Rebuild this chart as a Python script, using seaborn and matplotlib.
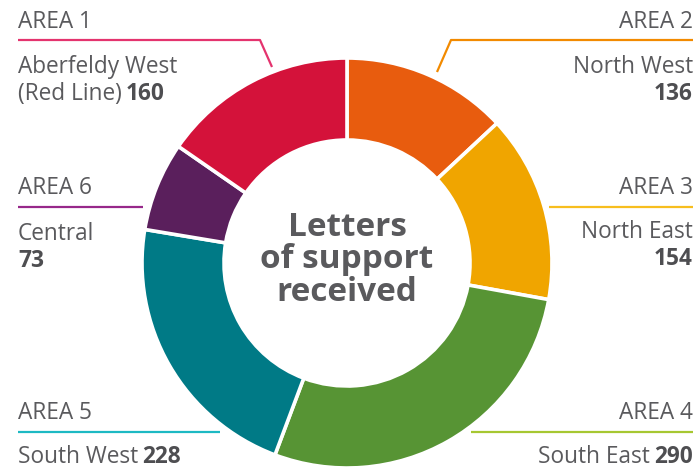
import matplotlib
matplotlib.use("Agg")
import matplotlib.pyplot as plt
import seaborn as sns

# data, listed by area number
areas = ["AREA 1", "AREA 2", "AREA 3", "AREA 4", "AREA 5", "AREA 6"]
names = [["Aberfeldy West", "(Red Line)"], ["North West"], ["North East"],
         ["South East"], ["South West"], ["Central"]]
letters = [160, 136, 154, 290, 228, 73]
slice_colors = ["#D4123A", "#E85C0E", "#F0A500", "#579434", "#007A86", "#5A1F5C"]
line_colors = ["#E4336E", "#F28A00", "#F7BE1E", "#A6C731", "#1DB9C3", "#97288A"]
center_title = "Letters\nof support\nreceived"

# pie starts at 12 o'clock with area 2 and goes clockwise, area 1 last
pie_order = [1, 2, 3, 4, 5, 0]

sns.set_theme(style="white")
plt.rcParams["font.family"] = ["Open Sans", "DejaVu Sans"]

text_col = "#5A5A5D"
num_col = "#4E4E51"

fig = plt.figure(figsize=(6.98, 4.69), dpi=100)
W, H = 698, 469

# donut: centre (347, 263) px, radius 205 px
cx, cy, r = 347, 263, 205
pie_ax = fig.add_axes([(cx - r) / W, (H - cy - r) / H, 2 * r / W, 2 * r / H])
pie_ax.pie([letters[i] for i in pie_order],
           colors=[slice_colors[i] for i in pie_order],
           startangle=90, counterclock=False, radius=1,
           wedgeprops=dict(width=0.4, edgecolor="white", linewidth=2.6))
pie_ax.set_xlim(-1, 1)
pie_ax.set_ylim(-1, 1)
pie_ax.axis("off")
pie_ax.text(0, 0.015, center_title, ha="center", va="center", fontsize=24,
            fontweight="bold", color=text_col, linespacing=0.97)

# overlay in pixel coordinates for labels and leader lines
ov = fig.add_axes([0, 0, 1, 1])
ov.set_xlim(0, W)
ov.set_ylim(H, 0)
ov.axis("off")
ov.patch.set_alpha(0)

leaders = [
    [(18, 40), (260, 40), (272, 67)],
    [(693, 40), (451, 40), (437, 72)],
    [(549, 207.5), (693, 207.5)],
    [(471, 432), (693, 432)],
    [(18, 432), (220, 432)],
    [(18, 207), (143, 207)],
]
for i, pts in enumerate(leaders):
    xs, ys = zip(*pts)
    ov.plot(xs, ys, color=line_colors[i], lw=1.6, solid_capstyle="butt")

fs = 16.3
# (x, area baseline, first name baseline, number on own line?, alignment)
label_pos = [
    (18, 28, 73, False, "left"),
    (693, 28, 73, True, "right"),
    (693, 194, 238, True, "right"),
    (693, 419, 463, False, "right"),
    (18, 419, 463, False, "left"),
    (18, 194, 240, True, "left"),
]

for i, (x, ya, yn, own_line, ha) in enumerate(label_pos):
    ov.text(x, ya, areas[i], ha=ha, va="baseline", fontsize=fs, color=text_col)
    num = str(letters[i])
    lines = names[i]
    for k, line in enumerate(lines[:-1]):
        ov.text(x, yn + 27 * k, line, ha=ha, va="baseline", fontsize=fs,
                color=text_col)
    yl = yn + 27 * (len(lines) - 1)
    if own_line:
        ov.text(x, yl, lines[-1], ha=ha, va="baseline", fontsize=fs, color=text_col)
        ov.text(x, yl + 27, num, ha=ha, va="baseline", fontsize=fs,
                fontweight="bold", color=num_col)
    elif ha == "left":
        t = ov.text(x, yl, lines[-1], ha="left", va="baseline", fontsize=fs,
                    color=text_col)
        ov.annotate(num, xy=(1, 0), xycoords=t, xytext=(3, 0),
                    textcoords="offset points", ha="left", va="bottom",
                    fontsize=fs, fontweight="bold", color=num_col)
    else:
        t = ov.text(x, yl, num, ha="right", va="baseline", fontsize=fs,
                    fontweight="bold", color=num_col)
        ov.annotate(lines[-1], xy=(0, 0), xycoords=t, xytext=(-3, 0),
                    textcoords="offset points", ha="right", va="bottom",
                    fontsize=fs, color=text_col)

fig.savefig("out.png", dpi=100)
